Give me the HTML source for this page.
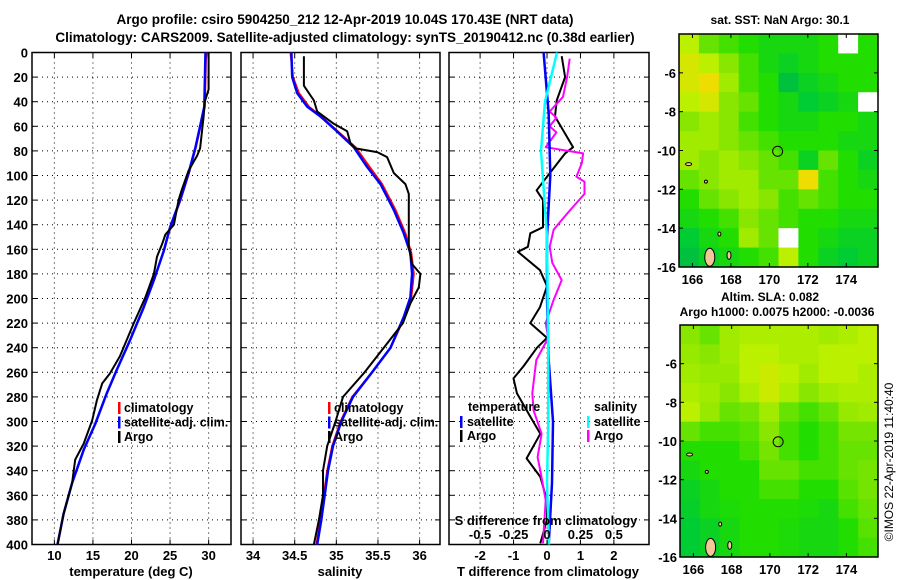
<!DOCTYPE html>
<html><head><meta charset="utf-8"><style>
body{margin:0;background:#fff}
svg{display:block;font-family:"Liberation Sans",Arial,sans-serif;font-weight:bold}
</style></head><body>
<svg id="fig" width="900" height="580" viewBox="0 0 900 580">
<text x="345" y="24" font-size="13.5" text-anchor="middle">Argo profile: csiro 5904250_212 12-Apr-2019 10.04S 170.43E (NRT data)</text>
<text x="345" y="42" font-size="13.5" text-anchor="middle">Climatology: CARS2009. Satellite-adjusted climatology: synTS_20190412.nc (0.38d earlier)</text>
<text x="780" y="24" font-size="12" text-anchor="middle">sat. SST: NaN Argo: 30.1</text>
<text x="770" y="301" font-size="12" text-anchor="middle">Altim. SLA: 0.082</text>
<text x="777" y="316" font-size="12" text-anchor="middle">Argo h1000: 0.0075 h2000: -0.0036</text>
<text transform="translate(893,462) rotate(-90)" font-size="12" font-weight="normal" text-anchor="middle">©IMOS 22-Apr-2019 11:40:40</text>
<g id="g"></g>
</svg>
<script>
// ---- depth axis ----
const depthTicks=[0,20,40,60,80,100,120,140,160,180,200,220,240,260,280,300,320,340,360,380,400];
// ---- temperature panel ----
const tTicks=[10,15,20,25,30];
const climTDepth=[0,6,44,60,77,98,120,142,161,185,207,234,258,277,302,323,350,375,400];
const climTVal=[29.75,29.65,29.5,28.95,28.35,27.45,26.35,25.05,24.2,22.9,21.6,19.8,18.1,16.8,15.3,13.8,12.3,11.2,10.4];
const satTVal=[29.6,29.57,29.44,28.9,28.3,27.4,26.3,25.0,24.2,22.9,21.6,19.8,18.1,16.8,15.3,13.8,12.3,11.2,10.4];
const argoTDepth=[0,30,40,52,78,84,96,112,120,140,148,155,166,180,199,220,247,261,269,283,299,318,331,350,375,400];
const argoTVal=[30.0,30.0,29.5,29.35,28.9,28.5,27.4,26.5,26.1,25.5,24.4,24.0,23.3,22.9,21.8,20.3,18.5,17.2,16.2,15.5,14.9,13.8,12.7,12.3,11.2,10.4];
// ---- salinity panel ----
const sTicks=[34,34.5,35,35.5,36];
const sTickLabels=["34","34.5","35","35.5","36"];
const climSDepth=[0,20,33,44,52,63,77,93,107,128,147,163,180,199,215,240,260,280,300,320,340,360,380,400];
const climSVal=[34.45,34.48,34.55,34.67,34.82,35.0,35.23,35.4,35.55,35.71,35.83,35.9,35.93,35.9,35.82,35.65,35.43,35.19,35.05,34.95,34.89,34.85,34.81,34.76];
const satSVal=[34.46,34.47,34.53,34.65,34.81,34.99,35.21,35.37,35.53,35.69,35.81,35.89,35.91,35.89,35.81,35.65,35.43,35.2,35.06,34.96,34.9,34.86,34.82,34.77];
const argoSDepth=[3,27,39,48,58,64,74,78,81,85,98,107,115,142,158,172,180,191,204,220,240,260,280,300,320,340,360,380,400];
const argoSVal=[34.61,34.61,34.73,34.77,34.97,35.13,35.17,35.23,35.49,35.61,35.69,35.83,35.87,35.87,35.87,35.91,36.01,35.99,35.89,35.8,35.57,35.34,35.08,34.99,34.89,34.84,34.84,34.79,34.73];
// ---- difference panel ----
const dTTicks=[-2,-1,0,1,2];
const dSTickLabels=["-0.5","-0.25","0","0.25","0.5"];
const dSTicks=[-0.5,-0.25,0,0.25,0.5];
const argoDTDepth=[3,20,39,52,77,82,101,112,120,142,147,158,162,177,190,207,220,232,240,255,265,277,296,310,330,345,364,380,399];
const argoDTVal=[0.44,0.54,0.29,0.24,0.78,0.54,0,-0.31,-0.12,-0.12,-0.5,-0.57,-0.87,-0.21,0,-0.21,-0.5,0,-0.3,-0.7,-1.0,-0.9,-0.5,-0.2,-0.61,-0.2,0,0,-0.2];
const argoDSDepth=[5,20,36,48,53,60,65,77,82,90,101,105,115,131,144,158,171,185,201,220,232,250,277,291,310,329,340,364,399];
const argoDSVal=[0.17,0.15,0.12,0.02,0.07,0.02,0.07,-0.01,0.27,0.26,0.22,0.28,0.28,0.15,0.05,0.02,0.04,0.11,0.05,-0.01,0.01,-0.08,-0.11,-0.1,-0.04,-0.07,-0.05,-0.01,-0.03];
const satDTDepth=[0,50,100,150,200,250,300,350,400];
const satDTVal=[-0.1,0.05,0.1,0.0,0.0,0.05,0.18,0.15,0.05];
const satDSDepth=[0,40,80,150,250,300,350,400];
const satDSVal=[0.075,-0.015,-0.045,0,0.01,0.01,0,0.015];
// ---- maps ----
const lonTicks=[166,168,170,172,174];
const latTicks=[-6,-8,-10,-12,-14,-16];
const argoLon=170.43, argoLat=-10.04;
const sstGrid=[
[0.75,0.6,0.55,0.5,0.45,0.45,0.45,0.5,-1,0.5],
[0.8,0.75,0.65,0.55,0.45,0.4,0.45,0.5,0.5,0.5],
[0.8,0.85,0.7,0.55,0.5,0.3,0.4,0.45,0.5,0.5],
[0.75,0.8,0.65,0.6,0.5,0.45,0.35,0.4,0.45,-1],
[0.65,0.7,0.65,0.55,0.5,0.45,0.45,0.5,0.5,0.45],
[0.7,0.7,0.65,0.6,0.55,0.5,0.5,0.5,0.45,0.45],
[0.7,0.65,0.7,0.65,0.6,0.55,0.4,0.6,0.5,0.4],
[0.6,0.65,0.7,0.7,0.6,0.6,0.85,0.55,0.5,0.45],
[0.5,0.6,0.65,0.7,0.65,0.55,0.6,0.55,0.5,0.5],
[0.45,0.5,0.55,0.65,0.6,0.55,0.5,0.5,0.45,0.45],
[0.35,0.45,0.5,0.7,0.6,-1,0.5,0.45,0.4,0.4],
[0.3,0.4,0.45,0.5,0.55,0.75,0.5,0.4,0.35,0.4]];
const slaGrid=[
[0.65,0.6,0.7,0.72,0.72,0.72,0.72,0.7,0.72,0.75],
[0.68,0.65,0.7,0.75,0.75,0.72,0.72,0.75,0.75,0.75],
[0.7,0.68,0.68,0.75,0.78,0.75,0.7,0.75,0.75,0.72],
[0.72,0.7,0.65,0.72,0.78,0.72,0.65,0.7,0.72,0.72],
[0.75,0.68,0.6,0.62,0.7,0.6,0.55,0.6,0.68,0.7],
[0.6,0.55,0.55,0.58,0.65,0.55,0.5,0.55,0.62,0.62],
[0.5,0.5,0.5,0.55,0.62,0.55,0.5,0.55,0.6,0.6],
[0.45,0.5,0.5,0.5,0.6,0.6,0.55,0.55,0.6,0.62],
[0.4,0.45,0.5,0.5,0.55,0.55,0.5,0.5,0.58,0.62],
[0.38,0.45,0.48,0.5,0.5,0.5,0.48,0.45,0.55,0.6],
[0.35,0.4,0.45,0.5,0.5,0.48,0.45,0.45,0.5,0.58],
[0.35,0.4,0.45,0.5,0.5,0.48,0.45,0.45,0.5,0.55]];

const NS="http://www.w3.org/2000/svg";
const G=document.getElementById('g');
function mk(tag,attrs,parent){const e=document.createElementNS(NS,tag);for(const k in attrs)e.setAttribute(k,attrs[k]);(parent||G).appendChild(e);return e;}
const TOP=52.5,BOT=544.5;
const yD=d=>TOP+d*(BOT-TOP)/400;

function panel(x0,x1,xMin,xMax,name){
  const xs=v=>x0+(v-xMin)*(x1-x0)/(xMax-xMin);
  const g=mk('g',{});
  
  
  return {x0,x1,xs,g};
}
function frame(P,xticks,leftLabels){
  depthTicks.forEach(d=>{
    const y=yD(d);
    if(d>0&&d<400){const l=mk('line',{x1:P.x0,x2:P.x1,y1:y,y2:y,stroke:'#000','stroke-width':1,'stroke-dasharray':'1,4'},P.g);
    }
    mk('line',{x1:P.x0,x2:P.x0+5,y1:y,y2:y,stroke:'#000'},P.g);
    mk('line',{x1:P.x1-5,x2:P.x1,y1:y,y2:y,stroke:'#000'},P.g);
    if(leftLabels){const t=mk('text',{x:P.x0-4,y:y+5,'font-size':13,'text-anchor':'end'},P.g);t.textContent=d;
      }
  });
  xticks.forEach(v=>{
    const x=P.xs(v);
    const l=mk('line',{x1:x,x2:x,y1:TOP,y2:BOT,stroke:'#000','stroke-width':1,'stroke-dasharray':'1,4'},P.g);
    
    mk('line',{x1:x,x2:x,y1:TOP,y2:TOP+5,stroke:'#000'},P.g);
    mk('line',{x1:x,x2:x,y1:BOT-5,y2:BOT,stroke:'#000'},P.g);
  });
  const r=mk('rect',{x:P.x0,y:TOP,width:P.x1-P.x0,height:BOT-TOP,fill:'none',stroke:'#000','stroke-width':1.5},P.g);
  
}
function xlabels(P,vals,labels,y,size){
  vals.forEach((v,i)=>{const t=mk('text',{x:P.xs(v),y:y,'font-size':size||13,'text-anchor':'middle'},P.g);t.textContent=labels[i];
    });
}
function line(P,depths,vals,color,name,w,scale){
  const pts=depths.map((d,i)=>P.xs(vals[i]*(scale||1)).toFixed(1)+','+yD(d).toFixed(1)).join(' ');
  const l=mk('polyline',{points:pts,fill:'none',stroke:color,'stroke-width':w||2,'stroke-linejoin':'round'},P.g);
  
}
function text(P,x,y,s,name,size,anchor){const t=mk('text',{x,y,'font-size':size||13,'text-anchor':anchor||'start'},P.g);t.textContent=s;
  return t;}
function legendMark(P,x,y,color){const r=mk('rect',{x:x,y:y-10,width:2.5,height:12,fill:color},P.g);
  }

// Temperature
const P1=panel(32,231,7.1,32.9,'temperature-panel');
frame(P1,tTicks,true);
line(P1,climTDepth,climTVal,'#f00','climatology-temperature-line');
line(P1,climTDepth,satTVal,'#00f','satellite-temperature-line',2.5);
line(P1,argoTDepth,argoTVal,'#000','argo-temperature-line');
xlabels(P1,tTicks,tTicks.map(String),560);
text(P1,131,576,'temperature (deg C)','x-axis-title',13,'middle');
[['climatology','#f00'],['satellite-adj. clim.','#00f'],['Argo','#000']].forEach((e,i)=>{legendMark(P1,118,412+i*14.5,e[1]);text(P1,124,412+i*14.5,e[0],'legend-entry',12.5);});

// Salinity
const P2=panel(241,440,33.855,36.245,'salinity-panel');
frame(P2,sTicks,false);
line(P2,climSDepth,climSVal,'#f00','climatology-salinity-line');
line(P2,climSDepth,satSVal,'#00f','satellite-salinity-line',2.5);
line(P2,argoSDepth,argoSVal,'#000','argo-salinity-line');
xlabels(P2,sTicks,sTickLabels,560);
text(P2,340,576,'salinity','x-axis-title',13,'middle');
[['climatology','#f00'],['satellite-adj. clim.','#00f'],['Argo','#000']].forEach((e,i)=>{legendMark(P2,328,412+i*14.5,e[1]);text(P2,334,412+i*14.5,e[0],'legend-entry',12.5);});

// Differences
const P3=panel(449,649,-2.93,3.05,'difference-panel');
frame(P3,dTTicks,false);
line(P3,argoDTDepth,argoDTVal,'#000','argo-temperature-difference-line');
line(P3,argoDSDepth,argoDSVal,'#f0f','argo-salinity-difference-line',2,4);
line(P3,satDTDepth,satDTVal,'#00f','satellite-temperature-difference-line',2.5);
line(P3,satDSDepth,satDSVal,'#0ff','satellite-salinity-difference-line',2.5,4);
xlabels(P3,dTTicks,dTTicks.map(String),560);
text(P3,548,576,'T difference from climatology','x-axis-title',13,'middle');
text(P3,546,525,'S difference from climatology','s-axis-title',13,'middle');
xlabels(P3,dSTicks.map(v=>v*4),dSTickLabels,539);
text(P3,468,411,'temperature','legend-title',12.5);
text(P3,594,411,'salinity','legend-title',12.5);
legendMark(P3,460,426,'#00f');text(P3,467,426,'satellite','legend-entry',12.5);
legendMark(P3,460,440,'#000');text(P3,467,440,'Argo','legend-entry',12.5);
legendMark(P3,587,426,'#0ff');text(P3,594,426,'satellite','legend-entry',12.5);
legendMark(P3,587,440,'#f0f');text(P3,594,440,'Argo','legend-entry',12.5);

// Maps
const stops=[[0.2,[0,170,85]],[0.35,[0,204,51]],[0.5,[34,221,0]],[0.65,[136,230,0]],[0.75,[187,240,0]],[0.85,[238,221,0]],[0.95,[255,153,0]]];
function col(v){if(v<0)return '#fff';if(v<=stops[0][0])return 'rgb('+stops[0][1]+')';
  for(let i=1;i<stops.length;i++){if(v<=stops[i][0]){const a=stops[i-1],b=stops[i],t=(v-a[0])/(b[0]-a[0]);
    return 'rgb('+a[1].map((c,k)=>Math.round(c+(b[1][k]-c)*t)).join(',')+')';}}
  return 'rgb('+stops[stops.length-1][1]+')';}
function map(x0,x1,y0,y1,grid,name){
  const g=mk('g',{});
  const lonMin=165.3,lonMax=175.65,latMax=-4,latMin=-16;
  const xs=lo=>x0+(lo-lonMin)*(x1-x0)/(lonMax-lonMin);
  const ys=la=>y0+(latMax-la)*(y1-y0)/(latMax-latMin);
  const rows=grid.length,cols=grid[0].length,cw=(x1-x0)/cols,ch=(y1-y0)/rows;
  grid.forEach((r,i)=>r.forEach((v,j)=>{const c=mk('rect',{x:x0+j*cw,y:y0+i*ch,width:cw+0.5,height:ch+0.5,fill:col(v)},g);
    }));
  // islands
  [[166.9,-15.5,5,9],[167.9,-15.4,2,4],[165.8,-10.7,3,1.5],[166.7,-11.6,1.5,1.5],[167.4,-14.3,1.5,2]].forEach(p=>{
    const e=mk('ellipse',{cx:xs(p[0]),cy:ys(p[1]),rx:p[2],ry:p[3],fill:'#f4c896',stroke:'#000','stroke-width':1},g);
    });
  const m=mk('circle',{cx:xs(argoLon),cy:ys(argoLat),r:5,fill:'none',stroke:'#000','stroke-width':1},g);
  
  const fr=mk('rect',{x:x0,y:y0,width:x1-x0,height:y1-y0,fill:'none',stroke:'#000','stroke-width':1.5},g);
  
  lonTicks.forEach(lo=>{const x=xs(lo);mk('line',{x1:x,x2:x,y1:y1,y2:y1-4,stroke:'#000'},g);mk('line',{x1:x,x2:x,y1:y0,y2:y0+4,stroke:'#000'},g);
    const t=mk('text',{x:x,y:y1+17,'font-size':13,'text-anchor':'middle'},g);t.textContent=lo;
    });
  latTicks.forEach(la=>{const y=ys(la);mk('line',{x1:x0,x2:x0+4,y1:y,y2:y,stroke:'#000'},g);mk('line',{x1:x1,x2:x1-4,y1:y,y2:y,stroke:'#000'},g);
    const t=mk('text',{x:x0-3,y:y+5,'font-size':13,'text-anchor':'end'},g);t.textContent=la;
    });
}
map(679,878,34,267,sstGrid,'sst-map');
map(680,878,325,557,slaGrid,'sla-map');
</script>
</body></html>
